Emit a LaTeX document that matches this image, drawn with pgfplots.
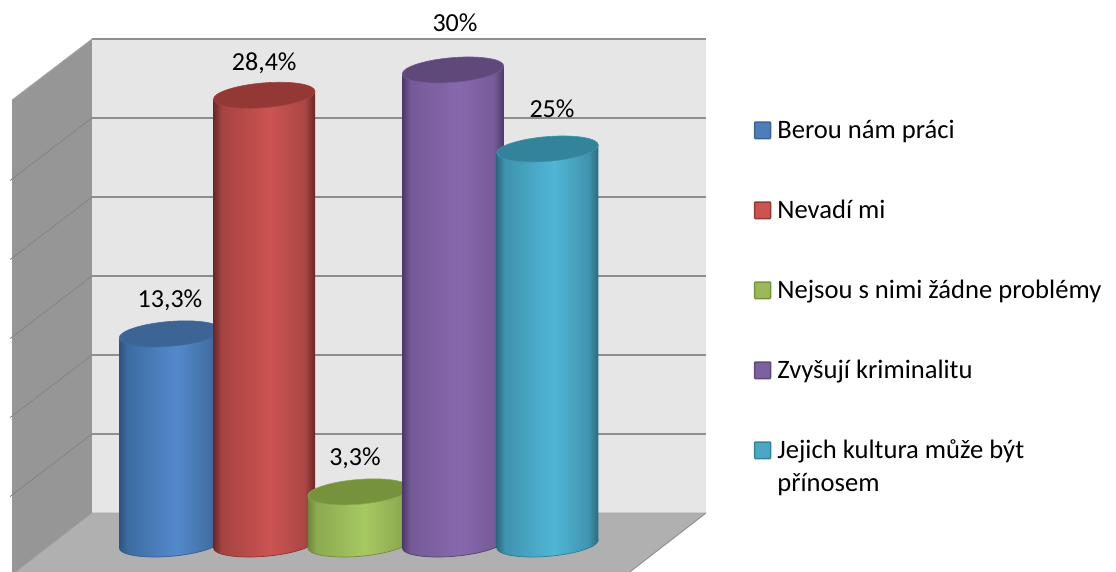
\documentclass[border=0pt]{standalone}
\usepackage{fontspec}
\setmainfont{Carlito}
\usepackage{pgfplots}
\pgfplotsset{compat=1.18}

% Colours of the chart frame
\definecolor{backwall}{HTML}{E6E6E6}
\definecolor{sidewall}{HTML}{969696}
\definecolor{floorcol}{HTML}{B0B0B0}
\definecolor{gridcol}{HTML}{8E8E8E}
\definecolor{gridside}{HTML}{858585}

% Tilted ellipse that closes a cylinder at its top and at its foot
\newcommand\cylellipse{\pgfpathellipse{\pgfpointorigin}{\pgfqpoint{50.8pt}{3.96pt}}{\pgfqpoint{0pt}{12.4pt}}}

% Cylinder colours: edge, shoulder, highlight, right shoulder, top face, outline
\newcommand\cylcolours[7]{%
  \definecolor{#1edge}{HTML}{#2}\definecolor{#1soft}{HTML}{#3}%
  \definecolor{#1high}{HTML}{#4}\definecolor{#1right}{HTML}{#5}%
  \definecolor{#1top}{HTML}{#6}\definecolor{#1line}{HTML}{#7}%
  \pgfdeclarehorizontalshading{cyl#1}{100bp}{%
    color(0bp)=(#1edge); color(25bp)=(#1edge); color(29bp)=(#1soft);
    color(53bp)=(#1high); color(70bp)=(#1right); color(75bp)=(#1edge);
    color(100bp)=(#1edge)}%
  \pgfdeclareplotmark{base#1}{%
    \begin{pgfscope}\cylellipse\pgfshadepath{cyl#1}{0}\pgfusepath{discard}\end{pgfscope}%
    \cylellipse\pgfsetstrokecolor{#1line}\pgfsetlinewidth{0.7pt}\pgfusepath{stroke}}%
  \pgfdeclareplotmark{cap#1}{%
    \cylellipse\pgfsetfillcolor{#1top}\pgfsetstrokecolor{#1soft}\pgfsetlinewidth{0.6pt}%
    \pgfusepath{fill,stroke}}%
}
\cylcolours{blu}{2E5480}{3C6CA2}{5389CC}{426FA2}{3C6494}{35608F}
\cylcolours{red}{6A2726}{A54341}{CB5451}{AB4644}{943835}{8C3331}
\cylcolours{gre}{6C8A3B}{8BA951}{A7C961}{8EAB52}{76923C}{718C39}
\cylcolours{pur}{4C3969}{755A97}{8868AD}{785C9A}{5F497A}{57426F}
\cylcolours{tea}{2A6B80}{3F94AE}{50B6D6}{4094AF}{33849B}{2E7C92}

\newcommand\swatch[2]{\addlegendimage{legend image code/.code={%
  \path[draw=#2,fill=#1,line width=1.5pt,rounded corners=0.8pt] (0pt,-6.3pt) rectangle (16pt,10.2pt);}}}

\begin{document}
\begin{tikzpicture}
\useasboundingbox (0pt,0pt) rectangle (1116pt,572pt);
\begin{axis}[
  at={(0pt,0pt)}, anchor=south west,
  scale only axis, width=1116pt, height=572pt,
  xmin=0, xmax=1116, ymin=-1.772, ymax=34.43,
  hide axis,
  clip marker paths=true,
  /pgf/number format/assume math mode=true,
  every axis plot/.append style={forget plot},
  legend style={
    at={(axis description cs:0.6755,0.7898)}, anchor=north west,
    draw=none, fill=none, inner sep=0pt, outer sep=0pt,
    font=\fontsize{26.6}{30}\selectfont,
    row sep=56pt,
    nodes={inner sep=0pt, outer sep=0pt, text height=18pt, text depth=6pt},
    /tikz/every odd column/.append style={column sep=6pt},
  },
  legend cell align=left,
]
% Walls and floor
\addplot[fill=floorcol,draw=none] coordinates {(15.8,-1.772)(92,1.96)(706,1.96)(629.8,-1.772)} --cycle;
\addplot[fill=sidewall,draw=none] coordinates {(12,-1.772)(15.8,-1.772)(92,1.96)(92,31.96)(12,28.1)} --cycle;
\addplot[fill=backwall,draw=none] coordinates {(92,1.96)(706,1.96)(706,31.96)(92,31.96)} --cycle;
\addplot[draw=gridcol,line width=0.9pt] coordinates {(706,1.96)(629.8,-1.772)};
\addplot[draw=gridcol!80!white,line width=0.9pt] coordinates {(15.8,-1.772)(92,1.96)(706,1.96)};

% Gridlines, every 5 percentage points, across the side wall and the back wall
\addplot[draw=gridside,line width=0.8pt] coordinates {(10,3.0)(92,6.96)};
\addplot[draw=gridside,line width=0.8pt] coordinates {(10,8.0)(92,11.96)};
\addplot[draw=gridside,line width=0.8pt] coordinates {(10,13.0)(92,16.96)};
\addplot[draw=gridside,line width=0.8pt] coordinates {(10,18.0)(92,21.96)};
\addplot[draw=gridside,line width=0.8pt] coordinates {(10,23.0)(92,26.96)};
\addplot[draw=gridside!70!white,line width=0.8pt] coordinates {(12,28.1)(92,31.96)};
\addplot[draw=gridcol,line width=1.5pt] coordinates {(92,6.96)(706,6.96)};
\addplot[draw=gridcol,line width=1.5pt] coordinates {(92,11.96)(706,11.96)};
\addplot[draw=gridcol,line width=1.5pt] coordinates {(92,16.96)(706,16.96)};
\addplot[draw=gridcol,line width=1.5pt] coordinates {(92,21.96)(706,21.96)};
\addplot[draw=gridcol,line width=1.5pt] coordinates {(92,26.96)(706,26.96)};
\addplot[draw=gridcol,line width=1.5pt] coordinates {(92,31.96)(706,31.96)};

% Berou nám práci
\addplot[only marks,mark=baseblu] coordinates {(170,0)};
\addplot[shade,shading=cylblu,draw=none] coordinates {(119.2,-0.25)(119.2,13.05)(220.8,13.55)(220.8,0.25)} --cycle;
\addplot[only marks,mark=capblu] coordinates {(170,13.3)};
% Nevadí mi
\addplot[only marks,mark=basered] coordinates {(264.2,0)};
\addplot[shade,shading=cylred,draw=none] coordinates {(213.4,-0.25)(213.4,28.15)(315,28.65)(315,0.25)} --cycle;
\addplot[only marks,mark=capred] coordinates {(264.2,28.4)};
% Nejsou s nimi žádne problémy
\addplot[only marks,mark=basegre] coordinates {(358.6,0)};
\addplot[shade,shading=cylgre,draw=none] coordinates {(307.8,-0.25)(307.8,3.05)(409.4,3.55)(409.4,0.25)} --cycle;
\addplot[only marks,mark=capgre] coordinates {(358.6,3.3)};
% Zvyšují kriminalitu
\addplot[only marks,mark=basepur] coordinates {(453,0)};
\addplot[shade,shading=cylpur,draw=none] coordinates {(402.2,-0.25)(402.2,29.75)(503.8,30.25)(503.8,0.25)} --cycle;
\addplot[only marks,mark=cappur] coordinates {(453,30)};
% Jejich kultura může být přínosem
\addplot[only marks,mark=basetea] coordinates {(547.5,0)};
\addplot[shade,shading=cyltea,draw=none] coordinates {(496.7,-0.25)(496.7,24.75)(598.3,25.25)(598.3,0.25)} --cycle;
\addplot[only marks,mark=captea] coordinates {(547.5,25)};

% Value labels
\pgfplotsset{value label/.style 2 args={draw=none,mark=none,
  nodes near coords={\pgfmathprintnumber[use comma]{\pgfplotspointmeta}\%},
  every node near coord/.append style={anchor=base,inner sep=0pt,xshift=#1,yshift=#2,
    font=\fontsize{26}{30}\selectfont,text=black}}}
\addplot[value label={0pt}{26pt}] coordinates {(170,13.3)};
\addplot[value label={0pt}{25pt}] coordinates {(264.2,28.4)};
\addplot[value label={-3.6pt}{26pt}] coordinates {(358.6,3.3)};
\addplot[value label={2pt}{38pt}] coordinates {(453,30)};
\addplot[value label={4.5pt}{31pt}] coordinates {(547.5,25)};

% Legend
\swatch{bluhigh!92!black}{blutop}
\addlegendentry{Berou nám práci}
\swatch{redhigh}{redtop}
\addlegendentry{Nevadí mi}
\swatch{grehigh!92!black}{gretop}
\addlegendentry{Nejsou s nimi žádne problémy}
\swatch{purhigh!92!black}{purtop}
\addlegendentry{Zvyšují kriminalitu}
\swatch{teahigh!92!black}{teatop}
\addlegendentry{\parbox[t]{320pt}{\setlength{\baselineskip}{33pt}Jejich kultura může být\\přínosem\par}}
\end{axis}
\end{tikzpicture}
\end{document}
